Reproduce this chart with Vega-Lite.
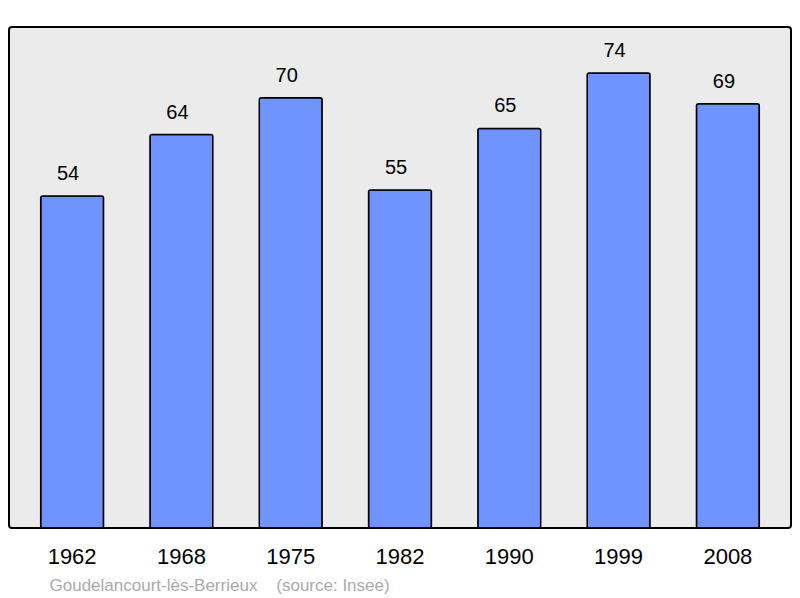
{
  "$schema": "https://vega.github.io/schema/vega-lite/v6.json",
  "width": 782,
  "height": 501,
  "autosize": {"type": "none"},
  "padding": {"left": 9, "top": 27, "right": 9, "bottom": 70},
  "background": "white",
  "config": {
    "font": "Liberation Sans",
    "view": {"fill": "#ebebeb", "stroke": "black", "strokeWidth": 2, "cornerRadius": 3}
  },
  "data": {
    "values": [
      {"year": "1962", "pop": 54},
      {"year": "1968", "pop": 64},
      {"year": "1975", "pop": 70},
      {"year": "1982", "pop": 55},
      {"year": "1990", "pop": 65},
      {"year": "1999", "pop": 74},
      {"year": "2008", "pop": 69}
    ]
  },
  "encoding": {
    "x": {
      "field": "year",
      "type": "ordinal",
      "sort": null,
      "scale": {"paddingInner": 0.425, "paddingOuter": 0.29},
      "axis": {
        "labelAngle": 0,
        "labelFontSize": 22,
        "labelColor": "black",
        "labelPadding": 18,
        "ticks": false,
        "domain": false,
        "title": "Goudelancourt-lès-Berrieux\u00a0\u00a0\u00a0\u00a0(source: Insee)",
        "titleFontSize": 17,
        "titleFontWeight": "normal",
        "titleColor": "#aaaaaa",
        "titleAnchor": "start",
        "titleAlign": "left",
        "titleBaseline": "alphabetic",
        "titleX": 40,
        "titleY": 62
      }
    },
    "y": {
      "field": "pop",
      "type": "quantitative",
      "scale": {"domain": [0, 81.5], "nice": false},
      "axis": null
    }
  },
  "layer": [
    {
      "mark": {"type": "bar", "fill": "#7094ff", "stroke": "black", "strokeWidth": 1.5, "cornerRadius": 2}
    },
    {
      "mark": {"type": "text", "fontSize": 20, "color": "black", "baseline": "alphabetic", "dy": -16, "dx": -4},
      "encoding": {"text": {"field": "pop", "type": "quantitative"}}
    }
  ]
}
